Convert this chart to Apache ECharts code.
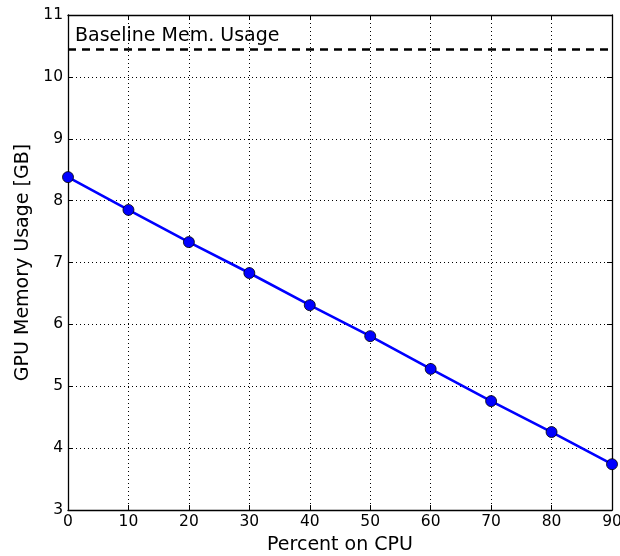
<!DOCTYPE html>
<html><head><meta charset="utf-8">
<script src="https://cdn.jsdelivr.net/npm/echarts@6/dist/echarts.min.js"></script>
<style>html,body{margin:0;padding:0;background:#fff}#c{width:620px;height:556px}</style>
</head><body><div id="c"></div>
<script>
const percentCPU = [0, 10, 20, 30, 40, 50, 60, 70, 80, 90];
const gpuMemGB = [8.38, 7.85, 7.33, 6.83, 6.31, 5.81, 5.28, 4.76, 4.26, 3.74];
const baselineGB = 10.44;
const baselineLabel = 'Baseline Mem. Usage';
const xTitle = 'Percent on CPU';
const yTitle = 'GPU Memory Usage [GB]';

const font = 'DejaVu Sans';
const chart = echarts.init(document.getElementById('c'));
const grid = {left: 68, top: 15, right: 8, bottom: 46, containLabel: false, outerBoundsMode: 'none'};
const tickStyle = {show: true, inside: true, length: 5, lineStyle: {color: '#000', width: 1}};
const dotted = {show: true, lineStyle: {color: '#000', width: 1, type: [1, 3]}};
chart.setOption({
  animation: false,
  grid: grid,
  xAxis: [{
    type: 'value', min: 0, max: 90, interval: 10, position: 'bottom',
    name: xTitle, nameLocation: 'middle', nameGap: 26,
    nameTextStyle: {fontFamily: font, fontSize: 19, color: '#000'},
    axisLine: {show: true, onZero: false, lineStyle: {color: '#000', width: 1.3}},
    axisTick: tickStyle,
    axisLabel: {fontFamily: font, fontSize: 15.5, color: '#000', margin: 4, showMaxLabel: true},
    splitLine: dotted
  }, {
    type: 'value', min: 0, max: 90, interval: 10, position: 'top',
    axisLine: {show: true, onZero: false, lineStyle: {color: '#000', width: 1.3}},
    axisTick: tickStyle, axisLabel: {show: false}, splitLine: {show: false}
  }],
  yAxis: [{
    type: 'value', min: 3, max: 11, interval: 1, position: 'left',
    name: yTitle, nameLocation: 'middle', nameGap: 34,
    nameTextStyle: {fontFamily: font, fontSize: 19, color: '#000'},
    axisLine: {show: true, onZero: false, lineStyle: {color: '#000', width: 1.3}},
    axisTick: tickStyle,
    axisLabel: {fontFamily: font, fontSize: 15.5, color: '#000', margin: 5},
    splitLine: dotted
  }, {
    type: 'value', min: 3, max: 11, interval: 1, position: 'right',
    axisLine: {show: true, onZero: false, lineStyle: {color: '#000', width: 1.3}},
    axisTick: tickStyle, axisLabel: {show: false}, splitLine: {show: false}
  }],
  series: [{
    type: 'line',
    data: percentCPU.map((x, i) => [x, gpuMemGB[i]]),
    lineStyle: {color: '#0000ff', width: 2.6},
    symbol: 'circle', symbolSize: 11,
    itemStyle: {color: '#0000ff', borderColor: '#000', borderWidth: 0.8},
    z: 5,
    markLine: {
      silent: true, symbol: 'none',
      lineStyle: {color: '#000', width: 2.5, type: [8, 6]},
      label: {show: true, position: 'insideStartTop', formatter: baselineLabel,
        fontFamily: font, fontSize: 19, color: '#000', distance: [7, 4]},
      data: [{yAxis: baselineGB}]
    }
  }]
});
</script></body></html>
